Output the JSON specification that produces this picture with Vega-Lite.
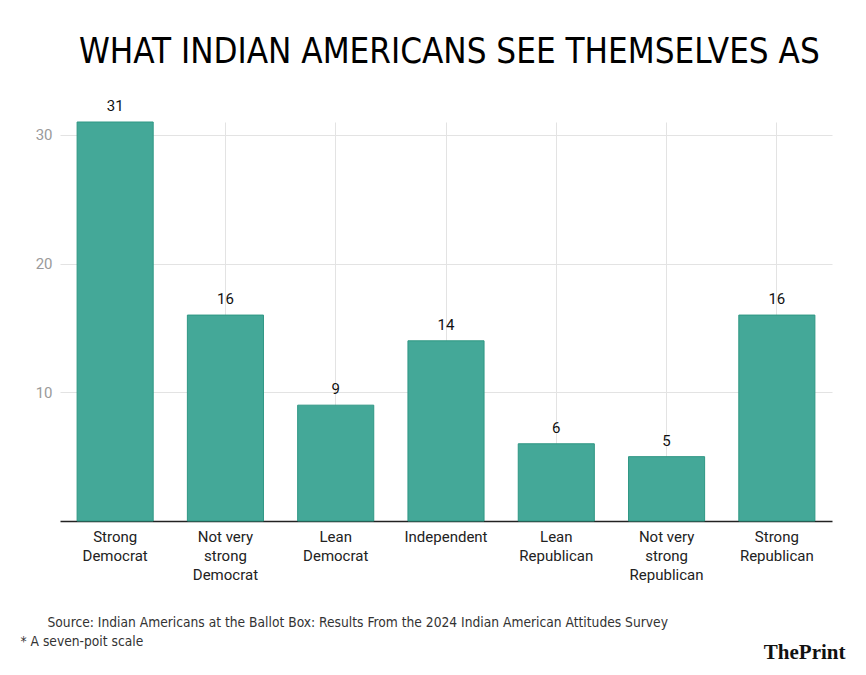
{
  "$schema": "https://vega.github.io/schema/vega-lite/v6.json",
  "width": 772,
  "height": 399,
  "autosize": "none",
  "padding": {"left": 60, "top": 122, "right": 34, "bottom": 154},
  "background": "white",
  "config": {"view": {"stroke": null}},
  "title": {
    "text": "WHAT INDIAN AMERICANS SEE THEMSELVES AS",
    "font": "DejaVu Sans Condensed",
    "fontSize": 34.7,
    "fontWeight": "normal",
    "color": "#000000",
    "anchor": "start",
    "frame": "group",
    "dx": 19,
    "offset": 28
  },
  "data": {
    "values": [
      {"category": "Strong Democrat", "value": 31},
      {"category": "Not very strong Democrat", "value": 16},
      {"category": "Lean Democrat", "value": 9},
      {"category": "Independent", "value": 14},
      {"category": "Lean Republican", "value": 6},
      {"category": "Not very strong Republican", "value": 5},
      {"category": "Strong Republican", "value": 16}
    ]
  },
  "encoding": {
    "x": {
      "field": "category",
      "type": "nominal",
      "sort": null,
      "scale": {"paddingInner": 0.31, "paddingOuter": 0.155},
      "axis": {
        "title": "Source: Indian Americans at the Ballot Box: Results From the 2024 Indian American Attitudes Survey",
        "titleFont": "DejaVu Sans Condensed",
        "titleFontSize": 13.7,
        "titleFontWeight": "normal",
        "titleColor": "#333333",
        "titleAlign": "left",
        "titleAnchor": "start",
        "titleX": -13,
        "titleY": 105,
        "titleBaseline": "alphabetic",
        "labelAngle": 0,
        "labelFont": "Roboto",
        "labelFontSize": 15,
        "labelColor": "#222222",
        "labelLineHeight": 19,
        "labelPadding": 8,
        "labelLimit": 0,
        "labelExpr": "indexof(datum.label, 'Not very') == 0 ? ['Not very', 'strong', slice(datum.label, 16)] : split(datum.label, ' ')",
        "ticks": false,
        "domainColor": "#222222",
        "domainWidth": 1.5,
        "grid": true,
        "gridColor": "#e3e3e3",
        "bandPosition": 0.5
      }
    },
    "y": {
      "field": "value",
      "type": "quantitative",
      "scale": {"domain": [0, 31], "nice": false}
    }
  },
  "layer": [
    {
      "mark": {"type": "bar", "color": "#44a898", "stroke": "#2f9784", "strokeWidth": 1},
      "encoding": {
        "y": {
          "field": "value",
          "type": "quantitative",
          "scale": {"domain": [0, 31], "nice": false},
          "axis": {
            "values": [10, 20, 30],
            "domain": false,
            "ticks": false,
            "labelFont": "Roboto",
            "labelFontSize": 15,
            "labelColor": "#9a9a9a",
            "labelPadding": 8,
            "gridColor": "#e3e3e3",
            "title": "* A seven-poit scale",
            "titleAngle": 0,
            "titleX": -40,
            "titleY": 523,
            "titleAlign": "left",
            "titleBaseline": "alphabetic",
            "titleFont": "DejaVu Sans Condensed",
            "titleFontSize": 13.7,
            "titleFontWeight": "normal",
            "titleColor": "#333333"
          }
        }
      }
    },
    {
      "mark": {"type": "text", "baseline": "bottom", "dy": -8, "font": "Roboto", "fontSize": 15, "color": "#111111"},
      "encoding": {
        "y": {
          "field": "value",
          "type": "quantitative",
          "scale": {"domain": [0, 31], "nice": false},
          "axis": {
            "orient": "right",
            "labels": false,
            "ticks": false,
            "domain": false,
            "grid": false,
            "title": "ThePrint",
            "titleAngle": 0,
            "titleX": 13,
            "titleY": 536,
            "titleAlign": "right",
            "titleBaseline": "alphabetic",
            "titleFont": "Liberation Serif",
            "titleFontSize": 21,
            "titleFontWeight": "bold",
            "titleColor": "#111111"
          }
        },
        "text": {"field": "value", "type": "quantitative"}
      }
    }
  ],
  "resolve": {"scale": {"y": "independent"}, "axis": {"y": "independent"}}
}
